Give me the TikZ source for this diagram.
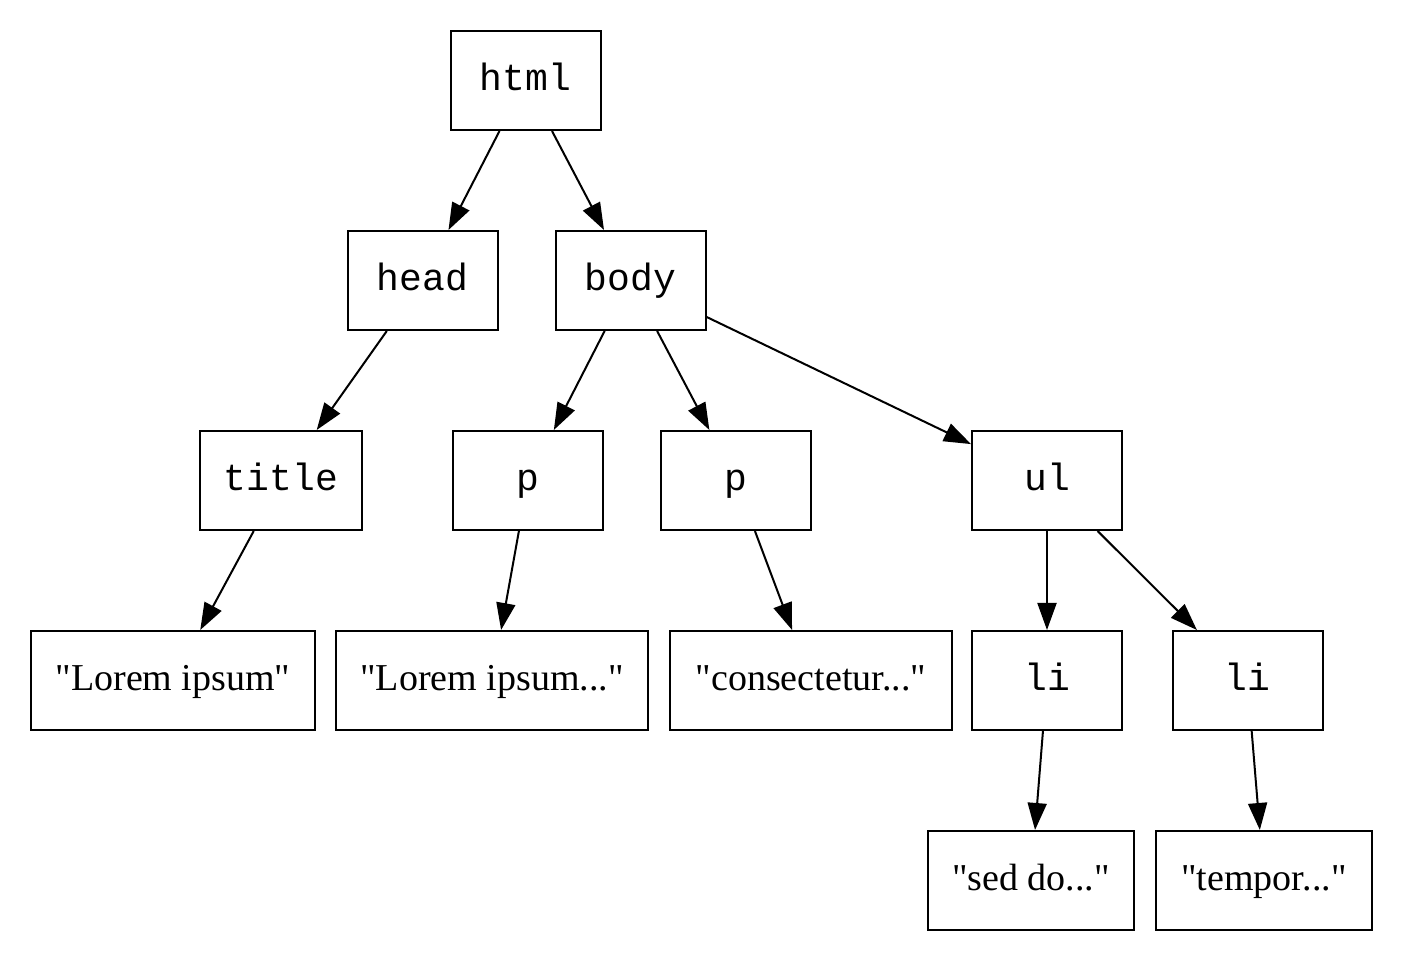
\documentclass[tikz,border=0pt]{standalone}
\usepackage{fontspec}
\newfontfamily\serifplain{Liberation Serif}
\setmonofont{Liberation Mono}
\usetikzlibrary{arrows.meta}
\begin{document}
\begin{tikzpicture}[x=0.5pt,y=-0.5pt,
  box/.style={draw,line width=1pt,rectangle,inner sep=0pt,minimum height=49.5pt,minimum width=75pt,text height=12pt,text depth=2pt,font=\fontsize{19}{23}\selectfont\serifplain},
  tag/.style={box,font=\fontsize{19}{23}\selectfont\ttfamily},
  edge/.style={line width=1pt,-{Triangle[length=13.5pt,width=9.5pt]}}]
\useasboundingbox (0,0) rectangle (1404,962);
\node[tag] (html) at (525.5,80.5) {html};
\node[tag] (head) at (422.5,280.5) {head};
\node[tag] (body) at (630.5,280.5) {body};
\node[tag,minimum width=81pt] (title) at (281,480.5) {title};
\node[tag] (p1) at (528,480.5) {p};
\node[tag] (p2) at (736,480.5) {p};
\node[tag] (ul) at (1047,480.5) {ul};
\node[box,minimum width=142pt] (t1) at (173,680.5) {"Lorem ipsum"};
\node[box,minimum width=156pt] (t2) at (492,680.5) {"Lorem ipsum..."};
\node[box,minimum width=141pt] (t3) at (811,680.5) {"consectetur..."};
\node[tag] (li1) at (1047,680.5) {li};
\node[tag] (li2) at (1247.5,680.5) {li};
\node[box,minimum width=103pt] (t4) at (1031,880.5) {"sed do..."};
\node[box,minimum width=108pt] (t5) at (1264,880.5) {"tempor..."};
\draw[edge] (html) -- (head);
\draw[edge] (html) -- (body);
\draw[edge] (head) -- (title);
\draw[edge] (body) -- (p1);
\draw[edge] (body) -- (p2);
\draw[edge] (body) -- (ul);
\draw[edge] (title) -- (t1);
\draw[edge] (p1) -- (t2);
\draw[edge] (p2) -- (t3);
\draw[edge] (ul) -- (li1);
\draw[edge] (ul) -- (li2);
\draw[edge] (li1) -- (t4);
\draw[edge] (li2) -- (t5);
\end{tikzpicture}
\end{document}
